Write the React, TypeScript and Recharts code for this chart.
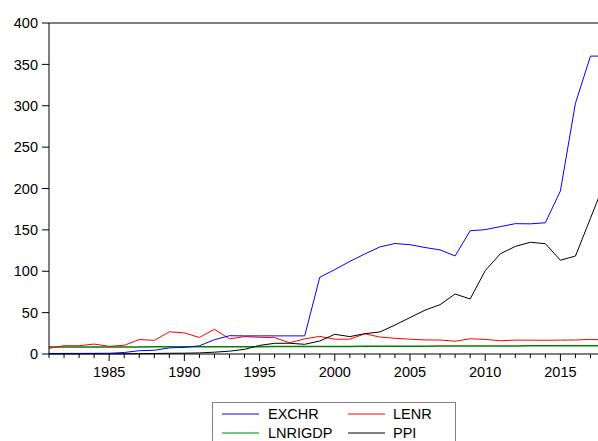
import React from "react";
import { LineChart, Line, XAxis, YAxis, ReferenceLine, Legend } from "recharts";

const years = [
  1981, 1982, 1983, 1984, 1985, 1986, 1987, 1988, 1989, 1990,
  1991, 1992, 1993, 1994, 1995, 1996, 1997, 1998, 1999, 2000,
  2001, 2002, 2003, 2004, 2005, 2006, 2007, 2008, 2009, 2010,
  2011, 2012, 2013, 2014, 2015, 2016, 2017, 2018,
];

const exchr = [
  0.6, 0.7, 0.7, 0.8, 0.9, 1.8, 4.0, 4.5, 7.4, 8.0,
  9.9, 17.3, 22.1, 21.9, 21.9, 21.9, 21.9, 21.9, 92.7, 102.0,
  111.9, 120.9, 129.4, 133.5, 132.1, 128.7, 125.8, 118.5, 148.9, 150.3,
  153.9, 157.5, 157.3, 158.6, 197.0, 303.0, 360.0, 360.0,
];

const lenr = [
  7.0, 10.0, 10.0, 12.0, 9.3, 10.5, 17.5, 16.5, 26.8, 25.5,
  20.0, 29.8, 18.3, 21.0, 20.2, 19.8, 13.5, 18.3, 21.3, 17.9,
  17.9, 24.4, 20.5, 19.0, 17.9, 17.0, 16.9, 15.5, 18.4, 17.6,
  16.0, 16.8, 16.7, 16.6, 16.8, 16.9, 17.6, 17.0,
];

const lnrigdp = [
  8.6, 8.6, 8.55, 8.5, 8.6, 8.6, 8.6, 8.7, 8.75, 8.85,
  8.85, 8.9, 8.9, 8.9, 8.9, 8.95, 9.0, 9.0, 9.0, 9.05,
  9.1, 9.25, 9.3, 9.4, 9.45, 9.5, 9.55, 9.6, 9.65, 9.7,
  9.75, 9.8, 9.85, 9.9, 9.9, 9.9, 9.9, 9.95,
];

const ppi = [
  0.1, 0.1, 0.2, 0.2, 0.2, 0.3, 0.4, 0.6, 0.9, 1.0,
  1.3, 2.2, 3.4, 5.6, 10.4, 12.9, 13.0, 11.7, 15.7, 23.8,
  21.0, 24.6, 26.6, 35.0, 44.0, 53.0, 59.6, 72.5, 66.5, 100.7,
  121.0, 130.0, 135.0, 133.3, 113.3, 118.4, 164.0, 210.0,
];

const yTicks = [0, 50, 100, 150, 200, 250, 300, 350, 400];
const xTicks = years.filter((y) => y <= 2017);

const seriesNames = ["EXCHR", "LENR", "LNRIGDP", "PPI"];
const seriesColors = ["#0000FF", "#FF0000", "#008000", "#000000"];

const data = years.map((yr, i) => ({
  year: yr,
  EXCHR: exchr[i],
  LENR: lenr[i],
  LNRIGDP: lnrigdp[i],
  PPI: ppi[i],
}));

const FONT = "'Liberation Sans', Arial, sans-serif";

const XTick = (props: any) => {
  const { x, y, payload } = props;
  const v = payload.value as number;
  const major = v % 5 === 0;
  return (
    <g>
      <line x1={x} x2={x} y1={y} y2={y + (major ? 7 : 4)} stroke="#000" strokeWidth={1} />
      {major && (
        <text x={x} y={y + 23} textAnchor="middle" fontSize={14.5} fontFamily={FONT} fill="#000">
          {v}
        </text>
      )}
    </g>
  );
};

const LegendBox = () => {
  const cols = [
    { lx: 10, tx: 56 },
    { lx: 136, tx: 181 },
  ];
  const rows = [12, 31];
  return (
    <svg width={244} height={45} style={{ display: "block" }}>
      <rect x={0.5} y={0.5} width={243} height={44} fill="#fff" stroke="#808080" strokeWidth={1} />
      {seriesNames.map((name, i) => {
        const c = cols[i % 2];
        const r = rows[Math.floor(i / 2)];
        return (
          <g key={name}>
            <line x1={c.lx} x2={c.lx + 37} y1={r} y2={r} stroke={seriesColors[i]} strokeWidth={1} />
            <text x={c.tx} y={r + 5} fontSize={14.5} fontFamily={FONT} fill="#000">
              {name}
            </text>
          </g>
        );
      })}
    </svg>
  );
};

export default function App() {
  return (
    <div
      style={{
        position: "absolute",
        left: 0,
        top: 0,
        width: 598,
        height: 441,
        overflow: "hidden",
        background: "#fff",
      }}
    >
      <LineChart
        width={598}
        height={441}
        data={data}
        margin={{ top: 23, right: 0, left: 0, bottom: 0 }}
      >
        <XAxis
          dataKey="year"
          type="number"
          domain={[1981, 2017.5]}
          allowDataOverflow
          ticks={xTicks}
          interval={0}
          height={87}
          tickSize={0}
          tickMargin={0}
          tickLine={false}
          tick={<XTick />}
          axisLine={{ stroke: "#000", strokeWidth: 1 }}
        />
        <YAxis
          type="number"
          domain={[0, 400]}
          ticks={yTicks}
          interval={0}
          width={49}
          tickSize={7}
          tickMargin={4}
          axisLine={{ stroke: "#000", strokeWidth: 1 }}
          tickLine={{ stroke: "#000", strokeWidth: 1 }}
          tick={{ fill: "#000", fontSize: 14.5, fontFamily: FONT }}
        />
        <ReferenceLine y={400} stroke="#000" strokeWidth={1} />
        <Line dataKey="LNRIGDP" stroke="#008000" strokeWidth={1.5} dot={false} isAnimationActive={false} />
        <Line dataKey="LENR" stroke="#FF0000" strokeWidth={1} dot={false} isAnimationActive={false} />
        <Line dataKey="PPI" stroke="#000000" strokeWidth={1} dot={false} isAnimationActive={false} />
        <Line dataKey="EXCHR" stroke="#0000FF" strokeWidth={1} dot={false} isAnimationActive={false} />
        <Legend
          layout="horizontal"
          verticalAlign="middle"
          align="center"
          wrapperStyle={{ position: "absolute", left: 212, top: 402, width: 244, height: 45 }}
          content={<LegendBox />}
        />
      </LineChart>
    </div>
  );
}
